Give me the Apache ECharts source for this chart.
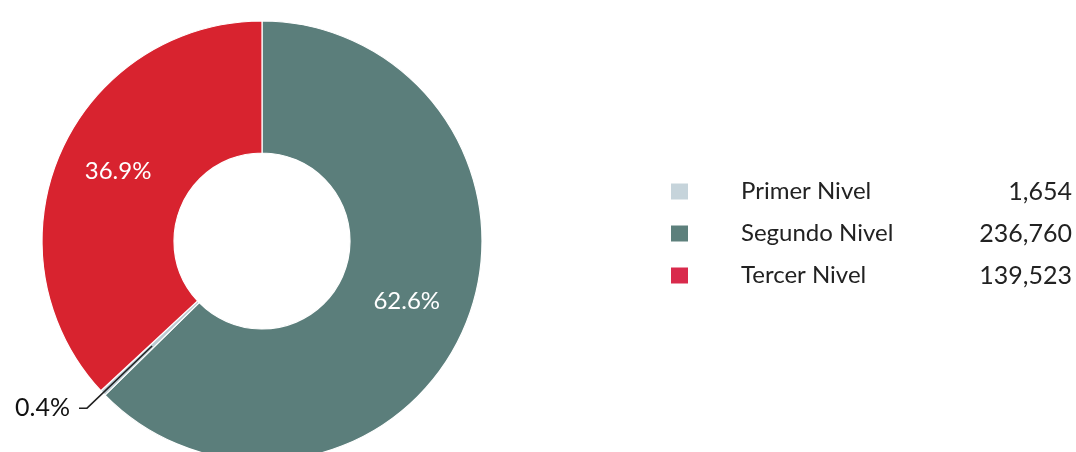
<!DOCTYPE html>
<html>
<head>
<meta charset="utf-8">
<script src="https://cdn.jsdelivr.net/npm/echarts@6/dist/echarts.min.js"></script>
<style>
  html, body { margin: 0; padding: 0; background: #ffffff; }
  #chart { width: 1076px; height: 452px; }
</style>
</head>
<body>
<div id="chart"></div>
<script>
// Alumnos por nivel de atención
const categories = ['Primer Nivel', 'Segundo Nivel', 'Tercer Nivel'];
const values = [1654, 236760, 139523];
// order in which the slices run clockwise from 12 o'clock
const sliceOrder = [1, 0, 2];

const sliceColors = ['#bccbd3', '#5b7e7b', '#d8232f'];
const legendColors = ['#c6d4db', '#5d807c', '#d92a4c'];

const total = values.reduce((a, b) => a + b, 0);
const pct = v => (v / total * 100).toFixed(1) + '%';
const thousands = v => v.toLocaleString('en-US');

const FONT = 'Lato, "Open Sans", sans-serif';
const CENTER = [262, 241];

const pieData = sliceOrder.map(i => {
  const item = {
    name: categories[i],
    value: values[i],
    itemStyle: { color: sliceColors[i] }
  };
  if (i === 0) item.label = { show: false };
  if (i === 2) item.label = { offset: [0, -7] };
  return item;
});

// thin ring used only to anchor the small slice's callout at mid-ring
const calloutData = sliceOrder.map(i => ({
  name: categories[i],
  value: values[i],
  label: { show: i === 0 },
  labelLine: { show: i === 0 }
}));

const chart = echarts.init(document.getElementById('chart'), null, { renderer: 'canvas' });

chart.setOption({
  backgroundColor: '#ffffff',
  animation: false,
  legend: {
    orient: 'vertical',
    left: 664,
    top: 174,
    icon: 'rect',
    itemWidth: 19,
    itemHeight: 18,
    itemGap: 17,
    selectedMode: false,
    data: categories.map((n, i) => ({ name: n, itemStyle: { color: legendColors[i] } })),
    formatter: name => {
      const v = values[categories.indexOf(name)];
      return '{s|}{n|' + name + '}{v|' + thousands(v) + '}';
    },
    textStyle: {
      fontFamily: FONT,
      fontSize: 24,
      color: '#222222',
      rich: {
        s: { width: 47, fontSize: 24 },
        n: { width: 230, fontSize: 24, color: '#222222', fontFamily: FONT },
        v: { width: 101, align: 'right', fontSize: 25, color: '#222222', fontFamily: FONT }
      }
    }
  },
  series: [
    {
      type: 'pie',
      center: CENTER,
      radius: [88, 220],
      startAngle: 90,
      clockwise: true,
      avoidLabelOverlap: false,
      silent: true,
      itemStyle: { borderColor: '#ffffff', borderWidth: 1.2 },
      label: {
        show: true,
        position: 'inside',
        formatter: p => pct(p.value),
        color: '#ffffff',
        fontFamily: FONT,
        fontSize: 24
      },
      labelLine: { show: false },
      data: pieData
    },
    {
      type: 'pie',
      center: CENTER,
      radius: [0, 152],
      startAngle: 90,
      clockwise: true,
      avoidLabelOverlap: false,
      silent: true,
      z: 5,
      itemStyle: { color: 'rgba(0,0,0,0)', borderWidth: 0 },
      label: {
        position: 'outside',
        formatter: p => pct(p.value),
        color: '#111111',
        fontFamily: FONT,
        fontSize: 25,
        distanceToLabelLine: 9
      },
      labelLine: {
        show: true,
        length: 90,
        length2: 8,
        smooth: false,
        lineStyle: { color: '#222222', width: 1.5 }
      },
      data: calloutData
    }
  ]
});
</script>
</body>
</html>
